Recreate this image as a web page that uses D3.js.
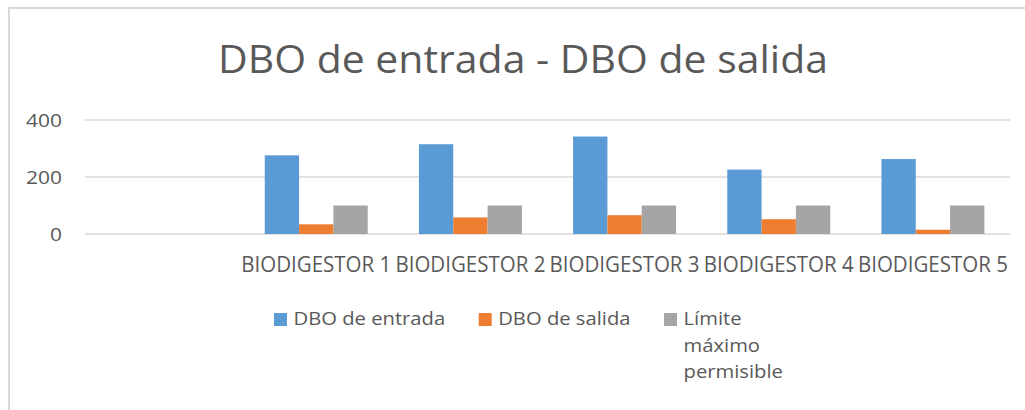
<!DOCTYPE html>
<html><head><meta charset="utf-8">
<script src="https://cdn.jsdelivr.net/npm/d3@7"></script>
<style>
body{margin:0;background:#fff}
svg{display:block}
text{font-family:"Open Sans",sans-serif;fill:#595959}
</style></head><body>
<script>
const title = "DBO de entrada - DBO de salida";
const categories = ["", "BIODIGESTOR 1", "BIODIGESTOR 2", "BIODIGESTOR 3", "BIODIGESTOR 4", "BIODIGESTOR 5"];
const seriesNames = ["DBO de entrada", "DBO de salida", "Límite máximo permisible"];
const legendLines = [["DBO de entrada"], ["DBO de salida"], ["Límite", "máximo", "permisible"]];
const dboEntrada = [null, 276, 315, 342, 226, 263];
const dboSalida = [null, 34, 58, 66, 52, 15];
const limite = [null, 100, 100, 100, 100, 100];
const yTicks = [0, 200, 400];
const colors = ["#5B9BD5", "#ED7D31", "#A5A5A5"];

const W = 1025, H = 410;
const svg = d3.select("body").append("svg").attr("width", W).attr("height", H);

// horizontally compress glyphs by a ratio (to mimic a narrower font)
function squeeze(nodes, ratio) {
  const widths = nodes.map(n => n.getComputedTextLength());
  nodes.forEach((n, i) => {
    n.setAttribute("textLength", widths[i] * ratio);
    n.setAttribute("lengthAdjust", "spacingAndGlyphs");
  });
  return widths.map(w => w * ratio);
}

// frame
svg.append("rect").attr("x", 9).attr("y", 8).attr("width", 1100).attr("height", 600)
  .attr("fill", "none").attr("stroke", "#d9d9d9").attr("stroke-width", 2);

// title
const t = svg.append("text").attr("x", 523).attr("y", 73).attr("text-anchor", "middle")
  .attr("font-size", 39).text(title);
squeeze([t.node()], 610 / t.node().getComputedTextLength());

const x = d3.scaleBand().domain(categories.map((c, i) => i)).range([85, 1010])
  .paddingInner(0.332).paddingOuter(0.166);
const y = d3.scaleLinear().domain([0, 400]).range([234, 120]);

// gridlines
svg.append("g").selectAll("line").data(yTicks).join("line")
  .attr("x1", 85).attr("x2", 1010)
  .attr("y1", d => y(d)).attr("y2", d => y(d))
  .attr("stroke", "#d9d9d9").attr("stroke-width", 1.5);

// y labels
const yl = svg.append("g").selectAll("text").data(yTicks).join("text")
  .attr("x", 62).attr("y", d => y(d) + 6.7).attr("text-anchor", "end")
  .attr("font-size", 18.8).text(d => d);
{
  const ref = yl.filter(d => d === 400).node();
  squeeze(yl.nodes(), 36 / ref.getComputedTextLength());
}

// bars
const series = [dboEntrada, dboSalida, limite];
const xs = d3.scaleBand().domain([0, 1, 2]).range([0, x.bandwidth()]);
series.forEach((vals, s) => {
  svg.append("g").selectAll("rect")
    .data(vals.map((v, i) => ({v, i})).filter(d => d.v != null))
    .join("rect")
    .attr("x", d => x(d.i) + xs(s))
    .attr("width", xs.bandwidth())
    .attr("y", d => y(d.v))
    .attr("height", d => y(0) - y(d.v))
    .attr("fill", colors[s]);
});

// x labels
const xl = svg.append("g").selectAll("text").data(categories.map((c, i) => ({c, i})).filter(d => d.c))
  .join("text")
  .attr("x", d => x(d.i) + x.bandwidth() / 2).attr("y", 272)
  .attr("text-anchor", "middle").attr("font-size", 22).text(d => d.c);
{
  const ref = xl.filter(d => d.i === 1).node();
  squeeze(xl.nodes(), 150 / ref.getComputedTextLength());
}

// legend
const lg = svg.append("g");
let lx = 274;
let lratio = null;
legendLines.forEach((lines, s) => {
  lg.append("rect").attr("x", lx).attr("y", 313).attr("width", 13).attr("height", 13).attr("fill", colors[s]);
  const tx = lg.append("text").attr("x", lx + 19.5).attr("y", 325).attr("font-size", 18.7);
  const spans = lines.map((ln, k) =>
    tx.append("tspan").attr("x", lx + 19.5).attr("y", 325 + k * 26.5).text(ln).node());
  if (s === 0) lratio = 151.7 / spans[0].getComputedTextLength();
  const ws = squeeze(spans, lratio);
  lx = lx + 19.5 + d3.max(ws) + 33.5;
});
</script>
</body></html>
